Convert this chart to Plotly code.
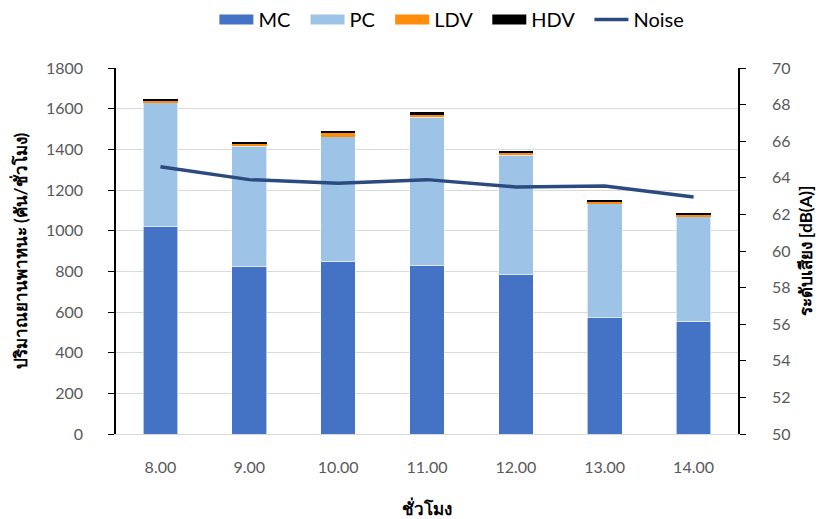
import plotly.graph_objects as go

hours = ["8.00", "9.00", "10.00", "11.00", "12.00", "13.00", "14.00"]
mc = [1020, 825, 850, 830, 785, 572, 555]
pc = [610, 590, 612, 728, 585, 561, 517]
ldv = [10, 10, 20, 12, 15, 10, 8]
hdv = [6, 10, 10, 12, 8, 6, 8]
noise = [64.6, 63.9, 63.7, 63.9, 63.5, 63.55, 62.95]

FONT = "Lato, 'Open Sans', 'Noto Sans', sans-serif"
series = [("MC", mc, "#4472C4"), ("PC", pc, "#9DC3E6"),
          ("LDV", ldv, "#FF8C0A"), ("HDV", hdv, "#000000")]

fig = go.Figure()
for name, vals, color in series:
    lw = 0.6 if name in ("MC", "PC") else 0
    fig.add_trace(go.Bar(x=hours, y=vals, name=name, showlegend=False,
                         marker=dict(color=color, line=dict(color="white", width=lw))))
# wide rectangular legend keys for the stacked series
for name, vals, color in series:
    fig.add_trace(go.Scatter(x=[None], y=[None], name=name + "  ", mode="lines",
                             line=dict(color=color, width=10)))
fig.add_trace(go.Scatter(x=hours, y=noise, name="Noise", mode="lines", yaxis="y2",
                         line=dict(color="#2B4A80", width=3.5)))

fig.update_layout(
    width=819, height=519,
    margin=dict(l=116, r=81, t=68, b=85),
    barmode="stack", bargap=0.61,
    plot_bgcolor="white", paper_bgcolor="white",
    font=dict(family=FONT, color="#595959", size=16),
    legend=dict(orientation="h", x=0.54, xanchor="center", y=0.925, yanchor="bottom",
                yref="container", font=dict(size=20, color="#000000"),
                itemwidth=34, traceorder="normal", tracegroupgap=0),
    xaxis=dict(showline=True, linecolor="#D9D9D9", ticks="", ticklabelstandoff=19,
               automargin=False, tickfont=dict(size=16, color="#595959"),
               title=dict(text="<b>ชั่วโมง</b>", font=dict(size=17, color="#000000"), standoff=30)),
    yaxis=dict(range=[0, 1800], dtick=200, showline=True, linecolor="#000000", linewidth=1.5,
               ticks="outside", ticklen=6, tickcolor="#000000", ticklabelstandoff=22,
               gridcolor="#D9D9D9", zeroline=False, automargin=False,
               title=dict(text="<b>ปริมาณยานพาหนะ (คัน/ชั่วโมง)</b>",
                          font=dict(size=17, color="#000000"), standoff=14)),
    yaxis2=dict(range=[50, 70], dtick=2, overlaying="y", side="right", showline=True,
                linecolor="#000000", linewidth=1.5, ticks="outside", ticklen=6,
                tickcolor="#000000", ticklabelstandoff=23, showgrid=False, zeroline=False,
                automargin=False,
                title=dict(text="<b>ระดับเสียง [dB(A)]</b>",
                           font=dict(size=17, color="#000000"), standoff=11)),
)

fig.write_html("out.html")
